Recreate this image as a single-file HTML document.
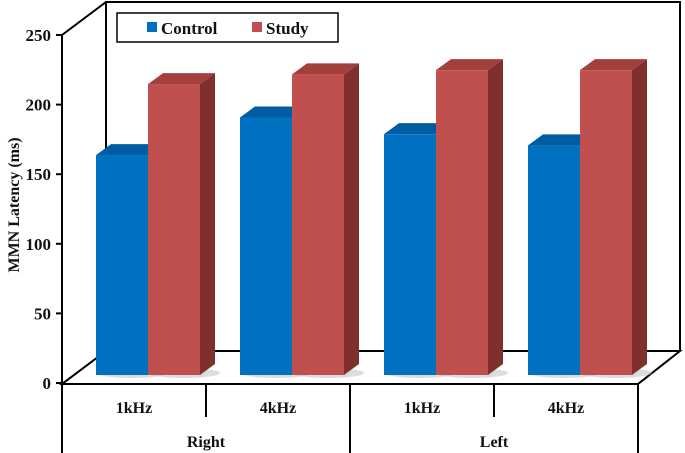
<!DOCTYPE html>
<html><head><meta charset="utf-8"><style>
html,body{margin:0;padding:0;background:#fff}
svg{display:block}
text{font-family:"Liberation Serif",serif;font-weight:bold;fill:#111}
</style></head><body>
<svg id="chart" width="685" height="453" viewBox="0 0 685 453" xmlns="http://www.w3.org/2000/svg">
<g id="frame" stroke="#000" stroke-width="2" fill="none">
<path d="M106,351 L106,2 L680,2 L680,351"/>
<path d="M62,384 L106,351 L680,351 L638,384 Z"/>
<path d="M62,35 L106,2"/>
<path d="M62,35 L62,453"/>
<path d="M206,384 L206,417 M350,384 L350,453 M494,384 L494,417 M638,384 L638,453"/>
</g>
<g id="yaxis"></g>
<g id="bars"></g>
<g id="xlabels"></g>
<text transform="translate(19,205) rotate(-90)" text-anchor="middle" font-size="16">MMN Latency (ms)</text>
<g>
<rect x="117" y="13" width="221" height="29" fill="#fff" stroke="#000" stroke-width="1.5"/>
<rect x="147" y="22" width="10" height="10" fill="#0070C0"/>
<text x="161" y="34" font-size="17">Control</text>
<rect x="252" y="22" width="10" height="10" fill="#C0504D"/>
<text x="266" y="34" font-size="17">Study</text>
</g>
</svg>
<script>
const categories = ["1kHz","4kHz","1kHz","4kHz"];
const groups = ["Right","Left"];
const controlValues = [158, 185, 173, 165];
const studyValues = [209, 216, 219, 219];
const yTicks = [0, 50, 100, 150, 200, 250];

const NS = "http://www.w3.org/2000/svg";
const yFront = v => 383 - v * 1.392;
const yBar = v => 375 - v * 1.392;
const catCenter = i => 134 + i * 144;
function mk(tag, attrs, parent){const e=document.createElementNS(NS,tag);for(const k in attrs)e.setAttribute(k,attrs[k]);parent.appendChild(e);return e;}

const ya = document.getElementById('yaxis');
yTicks.forEach(t=>{
  const y=yFront(t);
  const l=mk('line',{x1:56,x2:62,y1:y,y2:y,stroke:'#000','stroke-width':2},ya);
  
  
  const tx=mk('text',{x:51,y:y+6,'text-anchor':'end','font-size':17},ya);
  tx.textContent=t;
  
  
});

const bars=document.getElementById('bars');
const W=52, DX=15, DY=11;
function bar(x,v,front,side,top,name){
  const g=mk('g',{},bars);
  
  
  const y0=375, y1=yBar(v);
  mk('ellipse',{cx:x+W/2+10,cy:y0-2,rx:W/2+10,ry:5,fill:'#bbb',opacity:0.5},g);
  mk('rect',{x:x,y:y1,width:W,height:y0-y1,fill:front},g);
  mk('polygon',{points:`${x+W},${y1} ${x+W+DX},${y1-DY} ${x+W+DX},${y0-DY} ${x+W},${y0}`,fill:side},g);
  mk('polygon',{points:`${x},${y1} ${x+DX},${y1-DY} ${x+W+DX},${y1-DY} ${x+W},${y1}`,fill:top},g);
}
categories.forEach((c,i)=>{
  const cx=catCenter(i);
  bar(cx-38, controlValues[i], '#0070C0','#004F8A','#005DA3','bar-control-'+i);
  bar(cx+14, studyValues[i], '#C0504D','#7F2F2D','#A33F3C','bar-study-'+i);
});

const xl=document.getElementById('xlabels');
categories.forEach((c,i)=>{
  const t=mk('text',{x:catCenter(i),y:413,'text-anchor':'middle','font-size':16},xl);
  t.textContent=c;
  
  
});
groups.forEach((g,i)=>{
  const t=mk('text',{x:206+i*288,y:447,'text-anchor':'middle','font-size':16},xl);
  t.textContent=g;
  
  
});
</script>
</body></html>
